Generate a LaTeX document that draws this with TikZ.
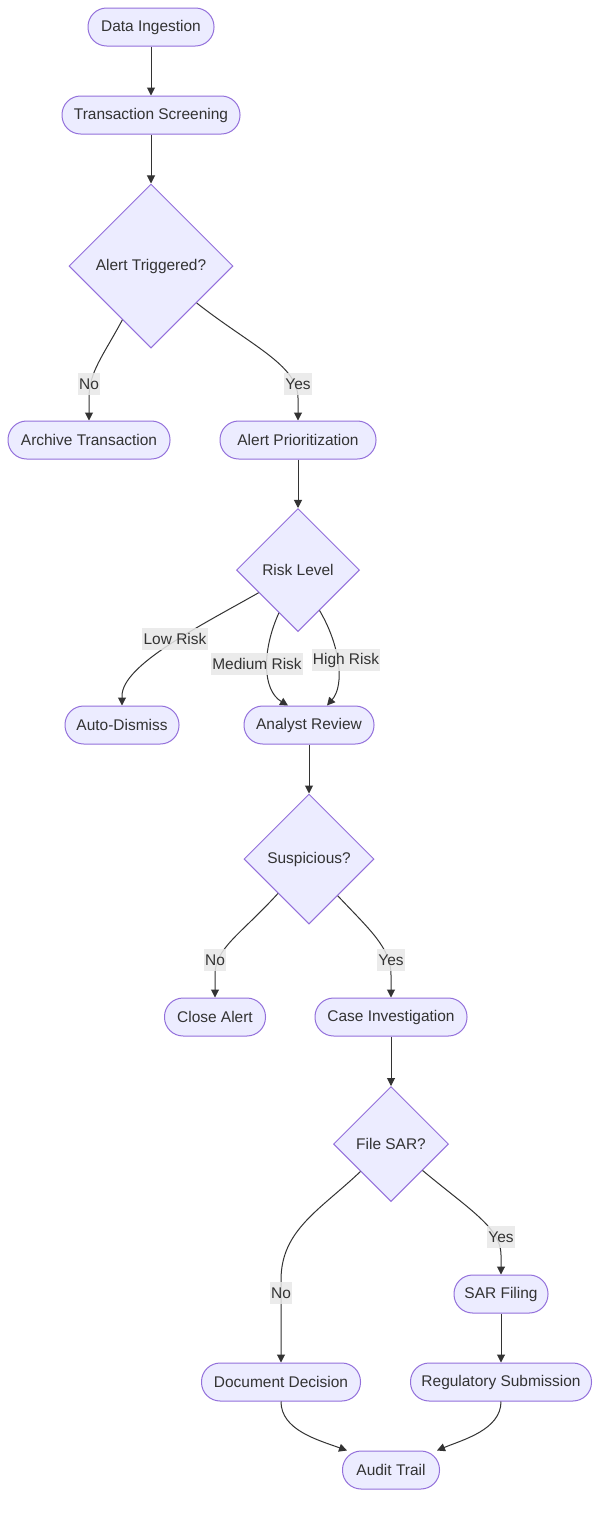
\documentclass[tikz,border=0pt]{standalone}
\usepackage{fontspec}
\setmainfont{Liberation Sans}
\usetikzlibrary{shapes.geometric,arrows.meta,calc}
\definecolor{nodefill}{HTML}{ECECFF}
\definecolor{nodeborder}{HTML}{9370DB}
\definecolor{edgecol}{HTML}{333333}
\definecolor{lblfill}{HTML}{E8E8E8}
\definecolor{txt}{HTML}{333333}
\begin{document}
\begin{tikzpicture}[x=0.75pt,y=-0.75pt,
  every node/.style={text=txt, font=\fontsize{11.6}{14}\selectfont},
  term/.style={draw=nodeborder, fill=nodefill, line width=0.75pt, rounded corners=14pt, minimum height=28.5pt, inner xsep=0pt},
  nw/.style={minimum width=#1*0.75pt},
  decision/.style={diamond, aspect=1, draw=nodeborder, fill=nodefill, line width=0.75pt, inner sep=0pt},
  dw/.style={minimum width=#1*0.75pt, minimum height=#1*0.75pt},
  edge/.style={draw=edgecol, line width=0.75pt, -{Triangle[length=6pt,width=6pt]}},
  lbl/.style={fill=lblfill, fill opacity=0.85, text opacity=1, inner xsep=1pt, inner ysep=0pt, minimum height=17pt}
]
\fill[white] (0,0) rectangle (608,1517);
\useasboundingbox (0,0) rectangle (608,1517);

% nodes
\node[term, nw=126] (di) at (151,27) {Data Ingestion};
\node[term, nw=178] (ts) at (151,115) {Transaction Screening};
\node[decision, dw=164] (at) at (151,266) {Alert Triggered?};
\node[term, nw=162] (arch) at (89,440) {Archive Transaction};
\node[term, nw=156] (prio) at (298,440) {Alert Prioritization};
\node[decision, dw=123] (risk) at (298,570) {Risk Level};
\node[term, nw=114] (auto) at (122,725) {Auto-Dismiss};
\node[term, nw=130] (anl) at (309,725) {Analyst Review};
\node[decision, dw=130] (susp) at (309,859) {Suspicious?};
\node[term, nw=101] (close) at (215,1017) {Close Alert};
\node[term, nw=152] (case) at (391,1017) {Case Investigation};
\node[decision, dw=115] (fsar) at (391,1144) {File SAR?};
\node[term, nw=94] (sarf) at (501,1294) {SAR Filing};
\node[term, nw=159] (doc) at (281,1382) {Document Decision};
\node[term, nw=181] (reg) at (501,1382) {Regulatory Submission};
\node[term, nw=97] (audit) at (391,1470) {Audit Trail};

% edges
\draw[edge] (di) -- (ts);
\draw[edge] (ts) -- (at);
\draw[edge] (at.242) .. controls (103,356) and (89,372) .. (89,398) -- (arch.north);
\draw[edge] (at.-39) .. controls (250,345) and (298,365) .. (298,398) -- (prio.north);
\draw[edge] (prio) -- (risk);
\draw[edge] (risk.210) .. controls (200,626) and (122,665) .. (122,696) -- (auto.north);
\draw[edge] (risk.246) .. controls (262,650) and (262,690) .. ([xshift=-15.75pt]anl.north);
\draw[edge] (risk.-62) .. controls (340,645) and (345,685) .. ([xshift=13.5pt]anl.north);
\draw[edge] (anl) -- (susp);
\draw[edge] (susp.228) .. controls (240,935) and (215,948) .. (215,975) -- (close.north);
\draw[edge] (susp.-52) .. controls (370,930) and (391,948) .. (391,975) -- (case.north);
\draw[edge] (case) -- (fsar);
\draw[edge] (fsar.222) .. controls (320,1210) and (281,1230) .. (281,1280) -- (doc.north);
\draw[edge] (fsar.-40) .. controls (470,1210) and (501,1228) .. (501,1255) -- (sarf.north);
\draw[edge] (sarf) -- (reg);
\draw[edge] (doc.south) .. controls (281,1430) and (318,1440) .. ([xshift=-33pt]audit.north);
\draw[edge] (reg.south) .. controls (501,1430) and (462,1440) .. ([xshift=34.5pt]audit.north);

% labels
\node[lbl] (l1) at (89,384) {No};
\node[lbl] (l2) at (298,384) {Yes};
\node[lbl] (l3) at (175,639) {Low Risk};
\node[lbl] (l4) at (257,664) {Medium Risk};
\node[lbl] (l5) at (346,660) {High Risk};
\node[lbl] (l6) at (215,960) {No};
\node[lbl] (l7) at (391,960) {Yes};
\node[lbl] (l8) at (501,1237) {Yes};
\node[lbl] (l9) at (281,1293) {No};
\end{tikzpicture}
\end{document}
